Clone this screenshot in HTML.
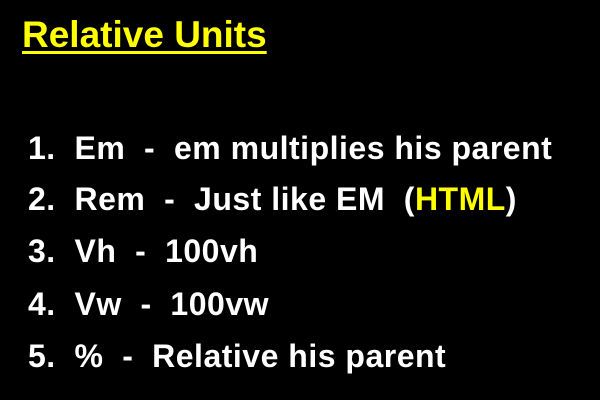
<!DOCTYPE html>
<html><head><style>
html,body{margin:0;padding:0;background:#000;}
body{width:600px;height:400px;position:relative;overflow:hidden;font-family:"Liberation Sans",sans-serif;font-weight:bold;color:#fff;}
.t{position:absolute;left:22px;top:14px;font-size:37px;color:#ffff00;text-decoration:underline;text-decoration-thickness:3px;text-underline-offset:4px;}
.l{position:absolute;left:28px;font-size:32px;white-space:pre;letter-spacing:0.5px;}
.y{color:#ffff00;}
</style></head><body>
<div class="t">Relative Units</div>
<div class="l" style="top:130px">1.  Em  -  em multiplies his parent</div>
<div class="l" style="top:181px">2.  Rem  -  Just like EM  (<span class="y">HTML</span>)</div>
<div class="l" style="top:233px">3.  Vh  -  100vh</div>
<div class="l" style="top:286px">4.  Vw  -  100vw</div>
<div class="l" style="top:338px">5.  %  -  Relative his parent</div>
</body></html>
